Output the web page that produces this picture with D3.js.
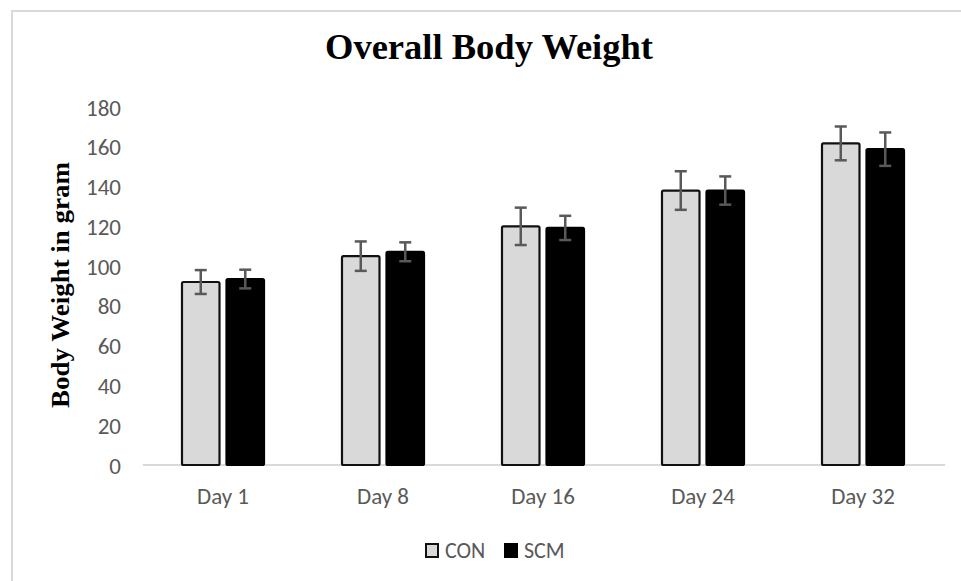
<!DOCTYPE html>
<html>
<head>
<meta charset="utf-8">
<script src="https://cdn.jsdelivr.net/npm/d3@7"></script>
<style>
  html, body { margin: 0; padding: 0; background: #fff; }
  svg { display: block; }
</style>
</head>
<body>
<svg id="chart" width="961" height="581"></svg>
<script>
const categories = ["Day 1", "Day 8", "Day 16", "Day 24", "Day 32"];
const seriesNames = ["CON", "SCM"];
const conValues = [92, 105, 120, 138, 161.7];
const conErrors = [6, 7.4, 9.4, 9.7, 8.5];
const scmValues = [93.5, 107.2, 119.2, 138, 158.8];
const scmErrors = [4.7, 4.75, 6.1, 7.1, 8.4];
const yTicks = [0, 20, 40, 60, 80, 100, 120, 140, 160, 180];

const colors = { CON: "#d9d9d9", SCM: "#000000" };
const tickFont = "Carlito, Calibri, Lato, 'Open Sans', sans-serif";
const serifFont = "'Liberation Serif', 'Times New Roman', 'DejaVu Serif', serif";

const svg = d3.select("#chart");

// outer border
svg.append("rect")
  .attr("x", 12).attr("y", 11)
  .attr("width", 1000).attr("height", 700)
  .attr("fill", "#fff")
  .attr("stroke", "#d9d9d9").attr("stroke-width", 2);

const x0 = d3.scaleBand().domain(categories).range([143, 943]).paddingInner(0).paddingOuter(0);
const x1 = d3.scaleBand().domain(seriesNames).range([0, x0.bandwidth()]).paddingInner(0.157).paddingOuter(0.876);
const y = d3.scaleLinear().domain([0, 180]).range([465, 107]);

const data = categories.map((c, i) => ({
  cat: c,
  vals: [
    { s: "CON", v: conValues[i], e: conErrors[i] },
    { s: "SCM", v: scmValues[i], e: scmErrors[i] }
  ]
}));

// title
svg.append("text")
  .attr("x", 489).attr("y", 59)
  .attr("text-anchor", "middle")
  .attr("font-family", serifFont)
  .attr("font-weight", "bold")
  .attr("font-size", 35)
  .attr("textLength", 328)
  .attr("lengthAdjust", "spacingAndGlyphs")
  .attr("fill", "#000")
  .text("Overall Body Weight");

// y axis title
svg.append("text")
  .attr("transform", "translate(69,285) rotate(-90)")
  .attr("text-anchor", "middle")
  .attr("font-family", serifFont)
  .attr("font-weight", "bold")
  .attr("font-size", 25)
  .attr("textLength", 246)
  .attr("lengthAdjust", "spacingAndGlyphs")
  .attr("fill", "#000")
  .text("Body Weight in gram");

// y axis (labels only)
const yAxis = d3.axisLeft(y).tickValues(yTicks).tickSize(0).tickPadding(0);
const gy = svg.append("g").attr("transform", "translate(121,0)").call(yAxis);
gy.select(".domain").remove();
gy.selectAll("text")
  .attr("font-family", tickFont)
  .attr("font-size", 23)
  .attr("fill", "#595959")
  .attr("dy", "0.35em");

// baseline
svg.append("line")
  .attr("x1", 143).attr("x2", 945)
  .attr("y1", y(0)).attr("y2", y(0))
  .attr("stroke", "#d9d9d9").attr("stroke-width", 2);

// x axis labels
const xAxis = d3.axisBottom(x0).tickSize(0).tickPadding(0);
const gx = svg.append("g").attr("transform", `translate(0,${y(0)})`).call(xAxis);
gx.select(".domain").remove();
gx.selectAll("text")
  .attr("font-family", tickFont)
  .attr("font-size", 23)
  .attr("fill", "#595959")
  .attr("dy", 0)
  .attr("y", 39);

// bars
const groups = svg.append("g").selectAll("g").data(data).join("g")
  .attr("transform", d => `translate(${x0(d.cat)},0)`);

groups.selectAll("rect").data(d => d.vals).join("rect")
  .attr("x", d => x1(d.s))
  .attr("y", d => y(d.v))
  .attr("width", x1.bandwidth())
  .attr("height", d => y(0) - y(d.v))
  .attr("rx", 1.5)
  .attr("fill", d => colors[d.s])
  .attr("stroke", d => d.s === "CON" ? "#111" : "#000")
  .attr("stroke-width", 2.2);

// error bars
const capW = 6;
const err = groups.selectAll("g.err").data(d => d.vals).join("g").attr("class", "err")
  .attr("stroke", "#595959").attr("stroke-width", 2.5);
err.append("line")
  .attr("x1", d => x1(d.s) + x1.bandwidth() / 2)
  .attr("x2", d => x1(d.s) + x1.bandwidth() / 2)
  .attr("y1", d => y(d.v + d.e))
  .attr("y2", d => y(d.v - d.e));
err.append("line")
  .attr("x1", d => x1(d.s) + x1.bandwidth() / 2 - capW)
  .attr("x2", d => x1(d.s) + x1.bandwidth() / 2 + capW)
  .attr("y1", d => y(d.v + d.e))
  .attr("y2", d => y(d.v + d.e));
err.append("line")
  .attr("x1", d => x1(d.s) + x1.bandwidth() / 2 - capW)
  .attr("x2", d => x1(d.s) + x1.bandwidth() / 2 + capW)
  .attr("y1", d => y(d.v - d.e))
  .attr("y2", d => y(d.v - d.e));

// legend
const legendX = [425, 504];
const legend = svg.append("g").selectAll("g").data(seriesNames).join("g")
  .attr("transform", (d, i) => `translate(${legendX[i]},543)`);
legend.append("rect")
  .attr("x", 1).attr("y", 1)
  .attr("width", 12).attr("height", 13)
  .attr("fill", d => colors[d])
  .attr("stroke", d => d === "CON" ? "#111" : "#000")
  .attr("stroke-width", 2);
legend.append("text")
  .attr("x", 20).attr("y", 15)
  .attr("font-family", tickFont)
  .attr("font-size", 22)
  .attr("fill", "#595959")
  .text(d => d);
</script>
</body>
</html>
